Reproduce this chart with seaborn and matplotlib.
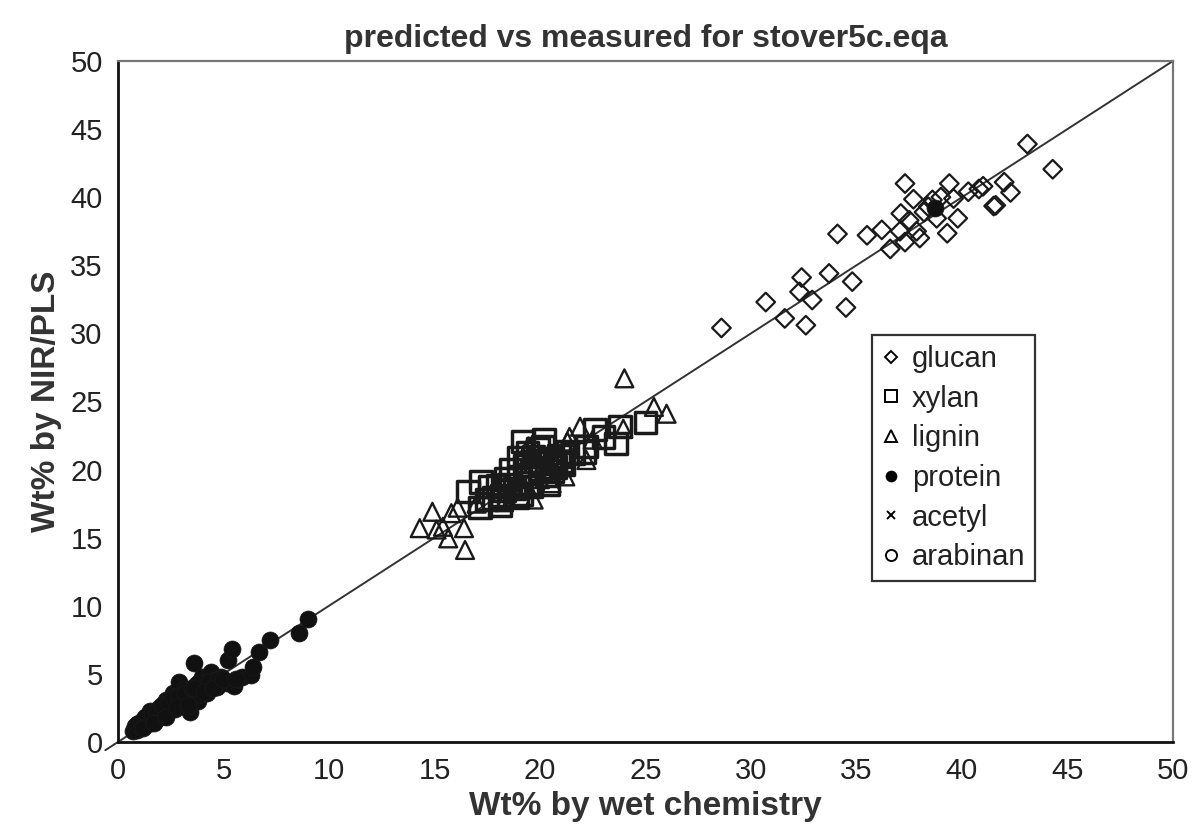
import numpy as np
import pandas as pd
import matplotlib
matplotlib.use("Agg")
import matplotlib.pyplot as plt
import seaborn as sns
from matplotlib.lines import Line2D

# values
glucan_x = [28.6, 30.7, 31.6, 32.6, 32.4, 32.3, 32.9, 33.7, 34.8, 34.5, 34.1, 35.5,
            36.2, 36.6, 37.3, 37.7, 37.3, 37.1, 37.06, 37.85, 38.2, 38.6, 38.8, 39.3,
            39.4, 39.6, 39.8, 40.3, 41.0, 41.5, 41.6, 42.0, 42.3, 43.1, 44.3, 37.5,
            38.0, 38.4, 39.0, 40.8]
glucan_y = [30.4, 32.3, 31.1, 30.6, 34.1, 33.05, 32.45, 34.4, 33.8, 31.9, 37.3, 37.2,
            37.6, 36.2, 41.0, 39.85, 36.7, 38.8, 37.5, 37.5, 38.9, 39.8, 38.45, 37.35,
            41.0, 39.9, 38.45, 40.4, 40.8, 39.35, 39.4, 41.1, 40.35, 43.9, 42.05, 38.3,
            37.0, 39.3, 40.0, 40.6]

xylan_x = [16.6, 17.15, 17.2, 17.6, 18.1, 18.2, 18.6, 18.9, 19.2, 19.6, 19.7, 20.2,
           20.15, 20.0, 21.6, 22.2, 22.6, 23.0, 23.6, 23.8, 25.0, 18.4, 18.8, 19.0,
           19.3, 19.5, 19.8, 20.3, 20.5, 20.7, 20.9, 21.1, 21.3, 19.9, 19.4, 18.0,
           17.8, 19.1, 20.4, 22.1, 18.5, 19.6, 20.1, 20.6, 21.0, 19.0, 18.3, 17.5]
xylan_y = [18.4, 17.2, 19.1, 18.75, 17.4, 18.1, 20.0, 18.0, 22.05, 18.75, 20.95, 22.2,
           21.7, 20.0, 21.2, 21.7, 22.95, 22.4, 21.9, 23.15, 23.45, 19.3, 18.6, 19.5,
           20.3, 19.0, 20.6, 19.6, 20.8, 20.2, 21.0, 20.4, 21.3, 21.5, 21.2, 18.8,
           17.9, 18.2, 18.9, 21.3, 18.9, 19.7, 20.5, 19.9, 20.6, 20.9, 18.5, 17.8]

lignin_x = [14.3, 14.9, 15.1, 15.4, 15.65, 15.8, 16.1, 16.4, 16.45, 19.45, 19.7, 20.55,
            21.2, 21.3, 21.9, 22.2, 21.4, 23.95, 24.0, 25.4, 26.0, 17.0, 18.3, 22.5,
            20.0, 19.3]
lignin_y = [15.7, 16.9, 15.6, 15.8, 14.95, 16.8, 17.2, 15.7, 14.1, 21.7, 17.8, 19.0,
            19.5, 22.05, 23.15, 20.7, 22.4, 23.0, 26.7, 24.6, 24.1, 17.5, 17.6, 22.2,
            19.3, 18.6]

protein_x = [0.7, 0.8, 0.9, 1.0, 1.1, 1.2, 1.3, 1.4, 1.5, 1.5, 1.6, 1.7, 1.8, 1.9,
             2.0, 2.0, 2.1, 2.2, 2.3, 2.4, 2.5, 2.6, 2.7, 2.8, 2.9, 3.0, 3.1, 3.2,
             3.25, 3.4, 3.5, 3.6, 3.7, 3.8, 3.9, 4.0, 4.05, 4.2, 4.4, 4.6, 4.7, 4.9,
             5.15, 5.2, 5.4, 5.5, 5.9, 6.3, 6.4, 6.7, 7.2, 8.6, 9.0, 38.7,
             0.9, 1.1, 1.3, 1.6, 1.8, 2.1, 2.4, 2.6, 2.9, 3.2, 3.5, 3.8, 4.3, 4.8,
             1.2, 1.7, 2.3, 2.8, 3.3, 3.6, 4.1, 4.5, 5.0, 5.6]
protein_y = [0.8, 1.2, 0.9, 1.4, 1.1, 1.6, 1.3, 1.9, 1.5, 2.3, 1.8, 2.1, 1.6, 2.4,
             2.0, 2.6, 2.3, 1.9, 3.1, 2.5, 2.8, 3.6, 2.4, 3.2, 4.4, 2.9, 3.1, 3.9,
             3.55, 2.2, 3.3, 5.8, 4.2, 3.0, 3.55, 4.8, 4.05, 3.6, 5.15, 4.55, 4.05, 4.8,
             4.3, 6.0, 6.8, 4.1, 4.8, 4.9, 5.5, 6.6, 7.5, 8.0, 9.0, 39.2,
             1.3, 1.5, 1.8, 2.1, 2.3, 2.7, 2.9, 3.3, 3.4, 3.6, 4.0, 4.3, 4.4, 4.6,
             1.0, 1.4, 1.8, 2.6, 2.7, 4.0, 3.7, 4.0, 4.6, 4.6]

acetyl_x = [1.6, 2.1, 2.5, 2.9, 3.3]
acetyl_y = [1.5, 2.0, 2.3, 2.8, 3.0]

arabinan_x = [0.9, 1.2, 1.5, 2.2, 2.8, 3.4]
arabinan_y = [0.7, 0.9, 1.1, 1.9, 2.3, 2.9]

components = ["glucan", "xylan", "lignin", "protein", "acetyl", "arabinan"]
series = {
    "glucan": (glucan_x, glucan_y),
    "xylan": (xylan_x, xylan_y),
    "lignin": (lignin_x, lignin_y),
    "protein": (protein_x, protein_y),
    "acetyl": (acetyl_x, acetyl_y),
    "arabinan": (arabinan_x, arabinan_y),
}
rows = []
for comp in components:
    xs, ys = series[comp]
    for a, b in zip(xs, ys):
        rows.append((comp, a, b))
df = pd.DataFrame(rows, columns=["component", "measured", "predicted"])

sns.set_style("white")
plt.rcParams["font.family"] = ["Liberation Sans", "DejaVu Sans"]

fig = plt.figure(figsize=(11.94, 8.34), dpi=100)
ax = fig.add_axes([0.0988, 0.1103, 0.8836, 0.8166])

styles = {
    "glucan": dict(marker="D", s=90, facecolor="none", linewidths=1.6),
    "xylan": dict(marker="s", s=240, facecolor="none", linewidths=2.5),
    "lignin": dict(marker="^", s=165, facecolor="none", linewidths=1.7),
    "protein": dict(marker="o", s=150, facecolor="#111111", linewidths=0.5),
    "acetyl": dict(marker="x", s=40, facecolor="black", linewidths=1.2),
    "arabinan": dict(marker="o", s=60, facecolor="none", linewidths=1.0),
}
# draw low-lying components first so protein covers them
order = ["arabinan", "acetyl", "glucan", "lignin", "xylan", "protein"]
for comp in order:
    sub = df[df["component"] == comp]
    sns.scatterplot(data=sub, x="measured", y="predicted", ax=ax, color="black",
                    edgecolor="#1a1a1a", label=comp, legend=False, zorder=3,
                    **styles[comp])

ax.plot([-0.6, 50], [-0.6, 50], color="#333333", lw=1.4, zorder=2, clip_on=False)

ax.set_xlim(0, 50)
ax.set_ylim(0, 50)
ax.set_xticks(range(0, 51, 5))
ax.set_yticks(range(0, 51, 5))
ax.tick_params(axis="both", direction="out", length=5, width=1.2, colors="#777777",
               labelcolor="#222222", labelsize=21, pad=6)
for side in ["left", "bottom"]:
    ax.spines[side].set_color("#111111")
    ax.spines[side].set_linewidth(2)
for side in ["top", "right"]:
    ax.spines[side].set_color("#777777")
    ax.spines[side].set_linewidth(1.6)

ax.set_xlabel("Wt% by wet chemistry", fontsize=24, fontweight="bold", color="#333333", labelpad=4)
ax.set_ylabel("Wt% by NIR/PLS", fontsize=24, fontweight="bold", color="#333333", labelpad=6)
ax.set_title("predicted vs measured for stover5c.eqa", fontsize=23, fontweight="bold",
             color="#333333", pad=10)

# legend with small markers in the reference order
legend_style = {
    "glucan": dict(marker="D", markersize=6, markerfacecolor="none"),
    "xylan": dict(marker="s", markersize=9, markerfacecolor="none"),
    "lignin": dict(marker="^", markersize=8, markerfacecolor="none"),
    "protein": dict(marker="o", markersize=7, markerfacecolor="black"),
    "acetyl": dict(marker="x", markersize=6, markerfacecolor="black"),
    "arabinan": dict(marker="o", markersize=8, markerfacecolor="none"),
}
handles = [Line2D([], [], linestyle="none", color="black", markeredgewidth=1.4,
                  label=c, **legend_style[c]) for c in components]
leg = ax.legend(handles=handles, loc="upper left", bbox_to_anchor=(0.715, 0.598),
                fontsize=21, frameon=True, fancybox=False, framealpha=1,
                edgecolor="#333333", handlelength=0.6, handletextpad=0.4,
                labelspacing=0.4, borderpad=0.35, borderaxespad=0)
leg.get_frame().set_linewidth(1.6)
for t in leg.get_texts():
    t.set_color("#222222")

fig.savefig("out.png", dpi=100)
